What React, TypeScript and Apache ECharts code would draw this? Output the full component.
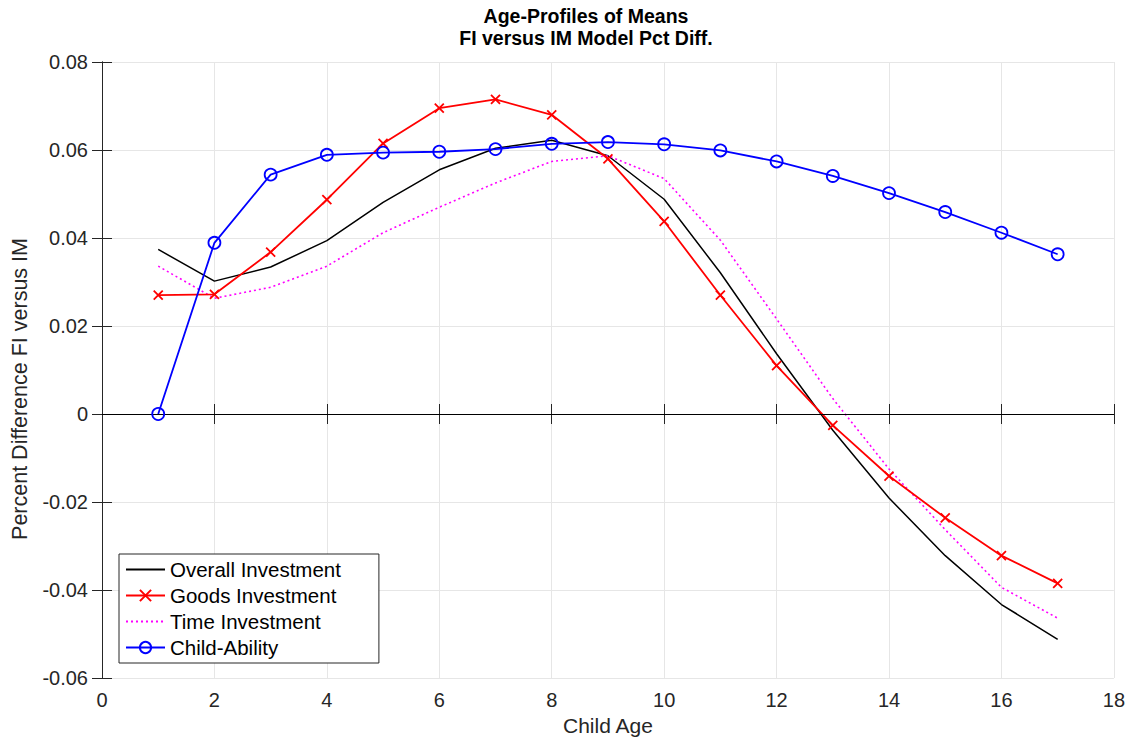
import React, { useEffect, useRef } from "react";
import * as echarts from "echarts";

const ages = [1, 2, 3, 4, 5, 6, 7, 8, 9, 10, 11, 12, 13, 14, 15, 16, 17];
const overall = [0.0374, 0.0302, 0.0334, 0.0394, 0.0481, 0.0555, 0.0604, 0.0622, 0.0587, 0.0488, 0.0321, 0.0137, -0.0037, -0.0191, -0.0322, -0.0433, -0.0512];
const goods = [0.027, 0.0272, 0.0368, 0.0487, 0.0615, 0.0695, 0.0715, 0.068, 0.058, 0.0438, 0.027, 0.011, -0.0026, -0.0141, -0.0236, -0.0322, -0.0385];
const timeInv = [0.0336, 0.0263, 0.0288, 0.0336, 0.0412, 0.047, 0.0525, 0.0574, 0.0587, 0.0535, 0.0395, 0.0216, 0.0035, -0.0125, -0.0263, -0.0394, -0.0464];
const ability = [0, 0.0389, 0.0544, 0.0589, 0.0594, 0.0596, 0.0602, 0.0614, 0.0618, 0.0613, 0.0599, 0.0574, 0.0541, 0.0502, 0.0459, 0.0412, 0.0363];

const seriesNames = ["Overall Investment", "Goods Investment", "Time Investment", "Child-Ability"];
const titleLines = ["Age-Profiles of Means", "FI versus IM Model Pct Diff."];
const xLabel = "Child Age";
const yLabel = "Percent Difference FI versus IM";

const FONT = "'Liberation Sans', Arial, Helvetica, sans-serif";
const AX = "#262626";

const pair = (ys: number[]) => ages.map((a, i) => [a, ys[i]]);

export default function App() {
  const ref = useRef<HTMLDivElement>(null);
  useEffect(() => {
    document.body.style.margin = "0";
    const chart = echarts.init(ref.current!, null, { renderer: "svg" });
    const axisCommon = {
      type: "value" as const,
      axisLine: { show: true, lineStyle: { color: AX, width: 1 } },
      axisTick: { show: true, inside: true, length: 10, lineStyle: { color: AX } },
    };
    chart.setOption({
      animation: false,
      backgroundColor: "#fff",
      textStyle: { fontFamily: FONT },
      graphic: [
        {
          type: "text",
          x: 586,
          y: 5,
          style: {
            text: titleLines.join("\n"),
            fontFamily: FONT,
            fontSize: 19.5,
            fontWeight: "bold",
            lineHeight: 22,
            fill: "#000",
            textAlign: "center",
            textVerticalAlign: "top",
          },
        },
        {
          type: "text",
          x: 20,
          y: 389,
          rotation: Math.PI / 2,
          style: {
            text: yLabel,
            fontFamily: FONT,
            fontSize: 21.5,
            fill: AX,
            textAlign: "center",
            textVerticalAlign: "middle",
          },
        },
      ],
      grid: { left: 102, right: 12, top: 62, bottom: 60, containLabel: false },
      legend: {
        orient: "vertical",
        left: 119,
        top: 554,
        padding: [5, 38, 5, 6],
        itemGap: 5,
        itemWidth: 39,
        itemHeight: 14,
        borderColor: AX,
        borderWidth: 1,
        backgroundColor: "#fff",
        borderRadius: 0,
        textStyle: { fontSize: 20.5, color: "#000", fontFamily: FONT, lineHeight: 21 },
        data: [
          { name: seriesNames[0], itemStyle: { opacity: 0 } },
          { name: seriesNames[1] },
          { name: seriesNames[2], itemStyle: { opacity: 0 } },
          { name: seriesNames[3] },
        ],
      },
      xAxis: [
        {
          ...axisCommon,
          position: "bottom",
          min: 0,
          max: 18,
          interval: 2,
          axisLabel: { fontSize: 20, color: AX, margin: 12, fontFamily: FONT },
          splitLine: { show: true, lineStyle: { color: "#e6e6e6", width: 1 } },
          name: xLabel,
          nameLocation: "middle",
          nameGap: 37,
          nameTextStyle: { fontSize: 21, color: AX, fontFamily: FONT },
        },
        {
          ...axisCommon,
          position: "top",
          min: 0,
          max: 18,
          interval: 2,
          axisLabel: { show: false },
          splitLine: { show: false },
        },
      ],
      yAxis: [
        {
          ...axisCommon,
          position: "left",
          min: -0.06,
          max: 0.08,
          interval: 0.02,
          axisLabel: {
            fontSize: 20,
            color: AX,
            margin: 14,
            fontFamily: FONT,
            formatter: (v: number) => (Math.abs(v) < 1e-9 ? "0" : v.toFixed(2)),
          },
          splitLine: { show: true, lineStyle: { color: "#e6e6e6", width: 1 } },
        },
        {
          ...axisCommon,
          position: "right",
          min: -0.06,
          max: 0.08,
          interval: 0.02,
          axisLabel: { show: false },
          splitLine: { show: false },
        },
      ],
      series: [
        {
          name: seriesNames[0],
          type: "line",
          data: pair(overall),
          showSymbol: false,
          symbol: "none",
          lineStyle: { color: "#000", width: 1.5 },
          itemStyle: { color: "#000" },
          z: 3,
          markLine: {
            silent: true,
            symbol: ["none", "none"],
            label: { show: false },
            lineStyle: { color: "#000", width: 1, type: "solid" },
            data: [{ yAxis: 0 }],
          },
        },
        {
          name: seriesNames[1],
          type: "line",
          data: pair(goods),
          symbol: "path://M0,0L10,10M10,0L0,10",
          symbolSize: 9,
          lineStyle: { color: "#ff0000", width: 1.8 },
          itemStyle: { color: "none", borderColor: "#ff0000", borderWidth: 1.8 },
          z: 4,
        },
        {
          name: seriesNames[2],
          type: "line",
          data: pair(timeInv),
          symbol: "none",
          lineStyle: { color: "#ff00ff", width: 1.6, type: [2, 3] },
          itemStyle: { color: "#ff00ff" },
          z: 3,
        },
        {
          name: seriesNames[3],
          type: "line",
          data: pair(ability),
          symbol: "circle",
          symbolSize: 12,
          lineStyle: { color: "#0000ff", width: 1.8 },
          itemStyle: { color: "none", borderColor: "#0000ff", borderWidth: 1.8 },
          z: 5,
        },
      ],
    });
    return () => chart.dispose();
  }, []);
  return <div ref={ref} style={{ width: 1128, height: 741 }} />;
}
